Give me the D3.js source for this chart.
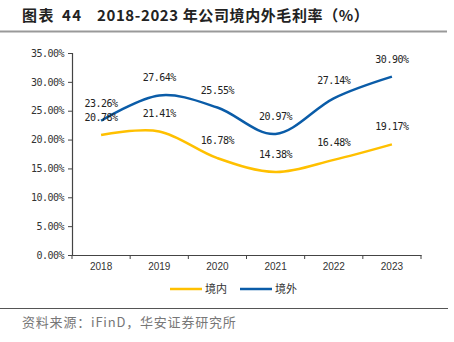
<!DOCTYPE html>
<html>
<head>
<meta charset="utf-8">
<script src="https://cdn.jsdelivr.net/npm/d3@7"></script>
<style>
  body { margin: 0; background: #fff; }
</style>
</head>
<body>
<div id="chart"></div>
<script>
// 2018-2023 domestic / overseas gross margin
const years = ['2018', '2019', '2020', '2021', '2022', '2023'];
const domestic = [20.78, 21.41, 16.78, 14.38, 16.48, 19.17];
const overseas = [23.26, 27.64, 25.55, 20.97, 27.14, 30.90];
const yTicks = [0, 5, 10, 15, 20, 25, 30, 35];

const width = 454;
const height = 342;
const numFont = '"DejaVu Sans Mono", monospace';
const cjkFont = '"Noto Sans CJK SC", sans-serif';

const svg = d3.select('#chart')
    .append('svg')
    .attr('width', width)
    .attr('height', height);

// Title, in three pieces to keep the wide gaps
const titleParts = [
    { t: '图表', x: 22 },
    { t: '44', x: 62 },
    { t: '2018-2023 年公司境内外毛利率（%）', x: 97 }
];
titleParts.forEach(p => {
    svg.append('text')
        .attr('x', p.x)
        .attr('y', 21)
        .attr('font-family', cjkFont)
        .attr('font-size', '15px')
        .attr('font-weight', 'bold')
        .attr('letter-spacing', p.x > 90 ? '0.6px' : '1.5px')
        .attr('fill', '#222')
        .text(p.t);
});

svg.append('line')
    .attr('x1', 0).attr('x2', 447)
    .attr('y1', 31.5).attr('y2', 31.5)
    .attr('stroke', '#999').attr('stroke-width', 1.8);

svg.append('line')
    .attr('x1', 0).attr('x2', 448)
    .attr('y1', 308.5).attr('y2', 308.5)
    .attr('stroke', '#555').attr('stroke-width', 1);

svg.append('text')
    .attr('x', 22)
    .attr('y', 327)
    .attr('font-family', cjkFont)
    .attr('font-size', '13px')
    .attr('letter-spacing', '0.8px')
    .attr('fill', '#777')
    .text('资料来源：iFinD，华安证券研究所');

// Scales
const x = d3.scaleBand().domain(years).range([72, 421]);
const y = d3.scaleLinear().domain([0, 35]).range([255, 53]);

// Y axis
const yAxis = svg.append('g')
    .attr('transform', 'translate(72,0)')
    .call(d3.axisLeft(y).tickValues(yTicks).tickSize(4).tickPadding(4)
        .tickFormat(d => d3.format('.2f')(d) + '%'));
yAxis.selectAll('text')
    .attr('font-family', numFont)
    .attr('font-size', '10px')
    .attr('letter-spacing', '-0.5px')
    .attr('fill', '#333');

// X axis
const xAxis = svg.append('g')
    .attr('transform', 'translate(0,255)')
    .call(d3.axisBottom(x).tickSize(0).tickPadding(8));
xAxis.selectAll('text')
    .attr('font-family', 'Arial, "Liberation Sans", sans-serif')
    .attr('font-size', '10px')
    .attr('fill', '#333');

// Tick marks at band boundaries
const bounds = years.map(d => x(d)).concat([x.range()[1]]);
xAxis.selectAll('.bound')
    .data(bounds)
    .enter().append('line')
    .attr('x1', d => d).attr('x2', d => d)
    .attr('y1', 0).attr('y2', 4)
    .attr('stroke', '#444');

svg.selectAll('.domain').attr('stroke', '#444').attr('stroke-width', 1.2);
svg.selectAll('.tick line').attr('stroke', '#444');

// Lines
const cx = d => x(d) + x.bandwidth() / 2;
const line = d3.line()
    .x((d, i) => cx(years[i]))
    .y(d => y(d))
    .curve(d3.curveCatmullRom.alpha(0));

const series = [
    { name: '境内', values: domestic, color: '#FFC000' },
    { name: '境外', values: overseas, color: '#0A5CA8' }
];

series.forEach(s => {
    svg.append('path')
        .datum(s.values)
        .attr('d', line)
        .attr('fill', 'none')
        .attr('stroke', s.color)
        .attr('stroke-width', 2.5);
});

series.forEach(s => {
    svg.selectAll(null)
        .data(s.values)
        .enter().append('text')
        .attr('x', (d, i) => cx(years[i]))
        .attr('y', d => y(d) - 14)
        .attr('text-anchor', 'middle')
        .attr('font-family', numFont)
        .attr('font-size', '10px')
        .attr('letter-spacing', '-0.5px')
        .attr('fill', '#222')
        .text(d => d3.format('.2f')(d) + '%');
});

// Legend
const legend = [
    { name: '境内', color: '#FFC000', x: 170 },
    { name: '境外', color: '#0A5CA8', x: 240 }
];
legend.forEach(l => {
    svg.append('line')
        .attr('x1', l.x).attr('x2', l.x + 32)
        .attr('y1', 289).attr('y2', 289)
        .attr('stroke', l.color)
        .attr('stroke-width', 2.5);
    svg.append('text')
        .attr('x', l.x + 35)
        .attr('y', 293)
        .attr('font-family', cjkFont)
        .attr('font-size', '11px')
        .attr('fill', '#333')
        .text(l.name);
});
</script>
</body>
</html>
